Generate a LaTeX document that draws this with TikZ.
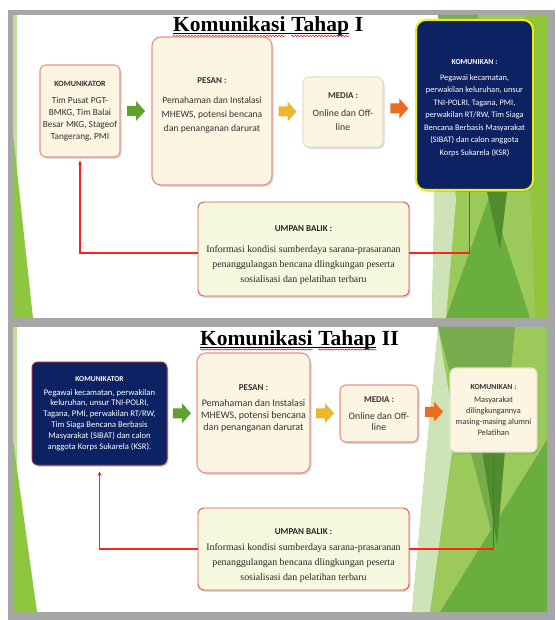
\documentclass[tikz,border=0pt]{standalone}
\usepackage{fontspec}
\setmainfont{Liberation Serif}
\setsansfont{Carlito}
\usetikzlibrary{positioning,calc,shadows,arrows.meta,decorations.pathmorphing}
\definecolor{frame}{HTML}{A6A6A6}
\definecolor{cream}{HTML}{FBF5E1}
\definecolor{lime}{HTML}{F6F9DF}
\definecolor{navy}{HTML}{0C2262}
\definecolor{rose}{HTML}{E79191}
\definecolor{fbrose}{HTML}{E05555}
\definecolor{fbred}{HTML}{FF2020}
\definecolor{txt}{HTML}{333333}
\definecolor{yel}{HTML}{EDED1A}
\definecolor{wine}{HTML}{8B2B4A}
\definecolor{pale}{HTML}{E6E0C8}
\definecolor{garr}{HTML}{5FA02E}
\definecolor{yarr}{HTML}{EDB72A}
\definecolor{oarr}{HTML}{EC6B1E}
\definecolor{gBase}{HTML}{9BC95A}
\definecolor{gSage}{HTML}{CFE3B8}
\definecolor{gTop}{HTML}{76AB4E}
\definecolor{gDeep}{HTML}{6AAE3F}
\definecolor{gDark}{HTML}{4E8C2E}
\definecolor{gYel}{HTML}{93C53C}
\definecolor{gLight}{HTML}{C3DE9A}
\definecolor{gMid}{HTML}{8DC63F}
\newcommand{\boxhd}[2]{{\sffamily\bfseries\fontsize{#1}{#1}\selectfont #2}}

\begin{document}
\begin{tikzpicture}[x=1pt,y=-1pt,
    box/.style={draw=rose,line width=1.1pt,fill=cream,rounded corners=6pt,align=center,text=txt,inner sep=1pt,
      drop shadow={opacity=.3,shadow xshift=1.5pt,shadow yshift=-1.8pt}},
    navybox/.style={box,fill=navy,text=white},
    fbbox/.style={box,draw=fbrose,fill=lime,line width=.9pt,text=black!85},
    sz/.style 2 args={font=\sffamily\fontsize{#1}{#2}\selectfont},
    ttl/.style={font=\bfseries\fontsize{21.5}{24}\selectfont,inner sep=0pt},
    fb/.style={fbred,line width=1.2pt},
    wave/.style={red!85!black,line width=.5pt,decorate,decoration={snake,amplitude=.6pt,segment length=3pt}},
    blk/.pic={\fill (-9,-5) -- (0,-5) -- (0,-10) -- (9,0) -- (0,10) -- (0,5) -- (-9,5) -- cycle;}]
  \useasboundingbox (0,0) rectangle (555,620);
  \fill[frame] (8,10) rectangle (555,620);
  \fill[white] (13,15) rectangle (547,318);
  \fill[white] (13,327) rectangle (547,612);

  \fill[gLight] (13,15) rectangle (17,318);
  \fill[gMid] (13,134) -- (33,318) -- (13,318) -- cycle;
  \fill[gBase] (438,15) -- (547,15) -- (547,318) -- (432,318) -- cycle;
  \fill[gSage] (438,15) -- (456,200) -- (446,318) -- (432,318) -- cycle;
  \fill[gTop] (438,15) -- (478,15) -- (460,140) -- cycle;
  \fill[gYel] (525,15) -- (547,15) -- (547,318) -- (535,318) -- cycle;
  \fill[gDeep] (446,318) -- (530,318) -- (490,195) -- cycle;
  \fill[gDark] (487,192) -- (507,192) -- (500,250) -- cycle;

  \fill[gLight] (13,327) rectangle (17,612);
  \fill[gMid] (13,440) -- (37,612) -- (13,612) -- cycle;
  \fill[gBase] (438,327) -- (547,327) -- (547,612) -- (412,612) -- cycle;
  \fill[gTop] (438,327) -- (515,327) -- (495,545) -- cycle;
  \fill[gSage] (438,327) -- (455,430) -- (430,612) -- (412,612) -- cycle;
  \fill[gDeep] (440,612) -- (547,612) -- (547,440) -- cycle;
  \fill[gDark] (482,450) -- (505,450) -- (497,545) -- cycle;

  \node[ttl,anchor=base west] (t1a) at (173,31.5) {Komunikasi};
  \node[ttl,base right=5.4pt of t1a] (t1b) {Tahap};
  \node[ttl,base right=5.4pt of t1b] (t1c) {I};
  \draw[line width=.9pt] ([yshift=-2pt]t1a.base west) -- ([yshift=-2pt]t1b.base east);
  \draw[wave] ([yshift=-4.5pt]t1a.base west) -- ([yshift=-4.5pt]t1a.base east);
  \draw[wave] ([yshift=-4.5pt]t1b.base west) -- ([yshift=-4.5pt]t1b.base east);

  \node[ttl,anchor=base west] (t2a) at (200,345) {Komunikasi};
  \node[ttl,base right=5.4pt of t2a] (t2b) {Tahap};
  \node[ttl,base right=5.4pt of t2b] (t2c) {II};
  \draw[line width=.9pt] ([yshift=-2pt]t2a.base west) -- ([yshift=-2pt]t2b.base east);
  \draw[wave] ([yshift=-4.5pt]t2a.base west) -- ([yshift=-4.5pt]t2a.base east);
  \draw[wave] ([yshift=-4.5pt]t2b.base west) -- ([yshift=-4.5pt]t2b.base east);

  \node[box,sz={9.3}{12},minimum width=80pt,minimum height=92pt] (kt1) at (80,111)
    {\boxhd{8}{KOMUNIKATOR}\\[5pt]Tim Pusat PGT-\\BMKG, Tim Balai\\Besar MKG, Stageof\\Tangerang, PMI};
  \node[box,sz={9.6}{14},minimum width=120pt,minimum height=148pt,rounded corners=9pt] (ps1) at (212,111)
    {\boxhd{9}{PESAN :}\\[6pt]Pemahaman dan Instalasi\\MHEWS, potensi bencana\\dan penanganan darurat\rule[-12pt]{0pt}{0pt}};
  \node[box,draw=pale,sz={9.8}{14},minimum width=80pt,minimum height=70pt] (md1) at (343,112)
    {\boxhd{8.9}{MEDIA :}\\[4pt]Online dan Off-\\line};
  \node[navybox,draw=yel,line width=2pt,rounded corners=10pt,sz={8.4}{12.5},minimum width=117pt,minimum height=170pt] (kn1) at (474.5,105)
    {\rule{0pt}{11pt}\boxhd{7.7}{KOMUNIKAN :}\\[3pt]Pegawai kecamatan,\\perwakilan keluruhan, unsur\\TNI-POLRI, Tagana, PMI,\\perwakilan RT/RW, Tim Siaga\\Bencana Berbasis Masyarakat\\(SIBAT) dan calon anggota\\Korps Sukarela (KSR)};
  \node[fbbox,font=\fontsize{9.9}{15}\selectfont,minimum width=211pt,minimum height=94pt] (ub1) at (303.5,249)
    {\rule{0pt}{18pt}\boxhd{9}{UMPAN BALIK :}\\[6pt]Informasi kondisi sumberdaya sarana-prasaranan\\penanggulangan bencana dlingkungan peserta\\sosialisasi dan pelatihan terbaru};

  \pic[garr] at ($(kt1.east)!.5!(ps1.west)$) {blk};
  \pic[yarr] at ($(ps1.east)!.5!(md1.west)$) {blk};
  \pic[oarr] at ($(md1.east)!.5!(kn1.west)$) {blk};
  \draw[fb,-{Stealth[length=4pt,width=4pt]},shorten >=3pt] ([yshift=-4pt]ub1.west) -| (kt1.south);
  \draw[fb] ([yshift=-4pt]ub1.east) -| ([xshift=-5pt]kn1.south);

  \node[navybox,draw=wine,line width=1pt,sz={8.6}{10.8},minimum width=135pt,minimum height=103pt] (kt2) at (99.5,413.5)
    {\boxhd{7.5}{KOMUNIKATOR}\\[3pt]Pegawai kecamatan, perwakilan\\keluruhan, unsur TNI-POLRI,\\Tagana, PMI, perwakilan RT/RW,\\Tim Siaga Bencana Berbasis\\Masyarakat (SIBAT) dan calon\\anggota Korps Sukarela (KSR).};
  \node[box,sz={10}{12},minimum width=113pt,minimum height=120pt,rounded corners=9pt] (ps2) at (253.5,413)
    {\boxhd{9}{PESAN :}\\[4pt]Pemahaman dan Instalasi\\MHEWS, potensi bencana\\dan penanganan darurat\rule[-10pt]{0pt}{0pt}};
  \node[box,sz={9.8}{11},minimum width=78pt,minimum height=57pt] (md2) at (379,413.5)
    {\boxhd{8.9}{MEDIA :}\\[6pt]Online dan Off-\\line};
  \node[box,draw=pale,sz={8.3}{11},minimum width=87pt,minimum height=84pt] (kn2) at (493.5,410)
    {\boxhd{7.7}{KOMUNIKAN :}\\[2pt]Masyarakat\\dilingkungannya\\masing-masing alumni\\Pelatihan};
  \node[fbbox,font=\fontsize{9.9}{15}\selectfont,minimum width=211pt,minimum height=82pt] (ub2) at (303.5,549)
    {\rule{0pt}{20pt}\boxhd{9}{UMPAN BALIK :}\\[1pt]Informasi kondisi sumberdaya sarana-prasaranan\\penanggulangan bencana dlingkungan peserta\\sosialisasi dan pelatihan terbaru};

  \pic[garr] at ($(kt2.east)!.5!(ps2.west)$) {blk};
  \pic[yarr] at ($(ps2.east)!.5!(md2.west)$) {blk};
  \pic[oarr] at ($(md2.east)!.5!(kn2.west)$) {blk};
  \draw[fb,-{Stealth[length=4pt,width=4pt]},shorten >=6pt] (ub2.west) -| (kt2.south);
  \draw[fb] (ub2.east) -| (kn2.south);
\end{tikzpicture}
\end{document}
